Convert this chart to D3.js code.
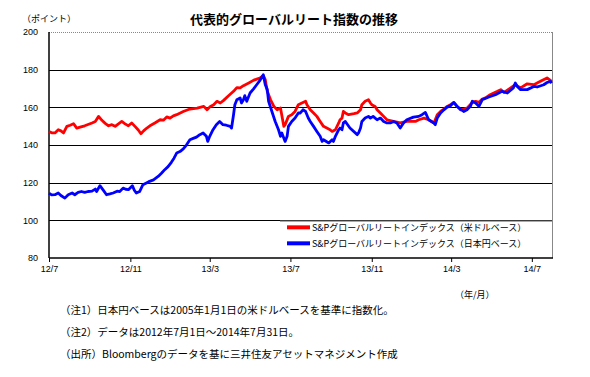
<!DOCTYPE html>
<html>
<head>
<meta charset="utf-8">
<script src="https://cdn.jsdelivr.net/npm/d3@7"></script>
<style>
body { margin: 0; background: #fff; }
text { font-family: "Noto Sans CJK JP", "Liberation Sans", sans-serif; fill: #000; }
.num text, text.num { font-family: "Liberation Sans", Arial, sans-serif; }
</style>
</head>
<body>
<div id="chart"></div>
<script>
////////////////////////// Data //////////////////////////

var title = "代表的グローバルリート指数の推移";
var seriesNames = ["S&Pグローバルリートインデックス（米ドルベース）", "S&Pグローバルリートインデックス（日本円ベース）"];
var yTicks = [80, 100, 120, 140, 160, 180, 200];
var xTicks = ["2012-07-01", "2012-11-01", "2013-03-01", "2013-07-01", "2013-11-01", "2014-03-01", "2014-07-01"];
var notes = [
	"（注1）日本円ベースは2005年1月1日の米ドルベースを基準に指数化。",
	"（注2）データは2012年7月1日～2014年7月31日。",
	"（出所）Bloombergのデータを基に三井住友アセットマネジメント作成"
];

//US dollar base (red)
var usdDates = ["2012-07-01","2012-07-05","2012-07-10","2012-07-15","2012-07-19","2012-07-23","2012-07-28","2012-08-02","2012-08-07","2012-08-12",
	"2012-08-17","2012-08-24","2012-09-04","2012-09-09","2012-09-14","2012-09-19","2012-09-24","2012-09-29","2012-10-04","2012-10-09",
	"2012-10-13","2012-10-19","2012-10-24","2012-10-29","2012-11-03","2012-11-08","2012-11-13","2012-11-17","2012-11-21","2012-11-26",
	"2012-12-02","2012-12-08","2012-12-16","2012-12-21","2012-12-26","2012-12-31","2013-01-05","2013-01-10","2013-01-20","2013-01-30",
	"2013-02-10","2013-02-20","2013-02-25","2013-03-02","2013-03-07","2013-03-12","2013-03-17","2013-03-22","2013-03-29","2013-04-06",
	"2013-04-11","2013-04-16","2013-04-21","2013-04-29","2013-05-06","2013-05-11","2013-05-16","2013-05-21","2013-05-24","2013-05-27",
	"2013-06-01","2013-06-06","2013-06-11","2013-06-16","2013-06-21","2013-06-23","2013-06-28","2013-07-03","2013-07-08","2013-07-13",
	"2013-07-16","2013-07-24","2013-07-26","2013-07-31","2013-08-05","2013-08-10","2013-08-15","2013-08-20","2013-08-25","2013-08-30",
	"2013-09-02","2013-09-07","2013-09-12","2013-09-14","2013-09-17","2013-09-19","2013-09-22","2013-09-27","2013-10-05","2013-10-10",
	"2013-10-15","2013-10-17","2013-10-22","2013-10-27","2013-10-30","2013-11-01","2013-11-06","2013-11-09","2013-11-14","2013-11-19",
	"2013-11-24","2013-12-04","2013-12-14","2013-12-24","2014-01-06","2014-01-11","2014-01-19","2014-01-26","2014-02-03","2014-02-08",
	"2014-02-13","2014-02-18","2014-02-23","2014-02-28","2014-03-05","2014-03-10","2014-03-15","2014-03-20","2014-03-25","2014-04-02",
	"2014-04-07","2014-04-12","2014-04-17","2014-04-22","2014-04-29","2014-05-10","2014-05-15","2014-05-20","2014-05-30","2014-06-06",
	"2014-06-14","2014-06-24","2014-07-04","2014-07-14","2014-07-24","2014-07-29","2014-07-31"];
var usdValues = [147.2,146.5,146.4,148.1,147.5,146.4,149.9,150.5,151.3,149.0,
	149.5,150.2,151.7,152.5,155.2,153.1,151.5,150.2,150.8,149.9,
	151.0,152.5,151.2,150.2,151.7,149.9,148.0,146.0,147.5,149.0,
	150.5,151.7,153.4,153.2,154.9,154.3,155.5,156.1,157.8,159.1,
	159.6,160.5,158.7,160.5,161.4,163.2,162.3,163.7,166.0,168.5,
	170.5,170.3,171.5,172.9,174.3,175.0,175.6,176.8,174.7,168.5,
	164.0,160.5,158.7,159.6,149.9,150.8,155.2,156.1,157.8,161.4,
	161.9,163.2,161.4,158.7,157.0,155.2,152.5,149.9,149.0,148.1,
	147.2,148.1,151.7,153.4,154.3,157.8,157.0,156.1,156.6,157.0,
	158.7,161.4,163.2,164.0,162.3,161.4,160.5,158.7,157.0,155.2,
	153.4,152.5,151.7,152.5,152.5,153.4,154.3,153.4,151.7,156.1,
	157.8,159.1,160.5,161.4,162.6,160.5,158.7,159.1,159.6,162.6,
	163.2,162.6,164.4,165.0,166.7,168.5,169.4,167.9,170.3,172.0,
	170.3,172.5,172.0,173.8,175.6,174.3,173.8];

//Japanese yen base (blue)
var jpyDates = ["2012-07-01","2012-07-05","2012-07-10","2012-07-15","2012-07-19","2012-07-25","2012-07-30","2012-08-05","2012-08-09","2012-08-14",
	"2012-08-19","2012-08-24","2012-08-29","2012-09-04","2012-09-09","2012-09-11","2012-09-16","2012-09-21","2012-09-26","2012-10-01",
	"2012-10-06","2012-10-12","2012-10-16","2012-10-21","2012-10-25","2012-10-29","2012-11-04","2012-11-07","2012-11-10","2012-11-15",
	"2012-11-20","2012-11-26","2012-11-30","2012-12-06","2012-12-13","2012-12-18","2012-12-23","2012-12-28","2013-01-02","2013-01-06",
	"2013-01-10","2013-01-15","2013-01-20","2013-01-25","2013-01-30","2013-02-04","2013-02-09","2013-02-14","2013-02-19","2013-02-24",
	"2013-02-26","2013-03-01","2013-03-06","2013-03-11","2013-03-16","2013-03-21","2013-03-26","2013-04-01","2013-04-03","2013-04-06",
	"2013-04-08","2013-04-11","2013-04-16","2013-04-18","2013-04-21","2013-04-23","2013-04-26","2013-05-01","2013-05-06","2013-05-11",
	"2013-05-16","2013-05-21","2013-05-24","2013-05-27","2013-05-29","2013-06-03","2013-06-08","2013-06-13","2013-06-16","2013-06-18",
	"2013-06-23","2013-06-26","2013-06-28","2013-07-03","2013-07-08","2013-07-13","2013-07-16","2013-07-20","2013-07-24","2013-07-28",
	"2013-07-31","2013-08-05","2013-08-10","2013-08-15","2013-08-18","2013-08-20","2013-08-28","2013-09-02","2013-09-04","2013-09-07",
	"2013-09-12","2013-09-14","2013-09-17","2013-09-19","2013-09-22","2013-09-29","2013-10-10","2013-10-12","2013-10-15","2013-10-17",
	"2013-10-22","2013-10-27","2013-10-30","2013-11-03","2013-11-09","2013-11-14","2013-11-19","2013-11-24","2013-11-29","2013-12-04",
	"2013-12-09","2013-12-14","2013-12-19","2013-12-24","2014-01-03","2014-01-11","2014-01-16","2014-01-21","2014-01-26","2014-02-03",
	"2014-02-05","2014-02-08","2014-02-13","2014-02-18","2014-02-23","2014-02-28","2014-03-05","2014-03-10","2014-03-15","2014-03-20",
	"2014-03-25","2014-03-30","2014-04-02","2014-04-07","2014-04-12","2014-04-17","2014-04-27","2014-05-07","2014-05-17","2014-05-25",
	"2014-06-03","2014-06-06","2014-06-09","2014-06-14","2014-06-24","2014-07-04","2014-07-09","2014-07-19","2014-07-24","2014-07-29",
	"2014-07-31"];
var jpyValues = [114.4,113.5,113.6,114.5,113.2,111.8,113.6,114.5,113.6,114.8,
	115.3,114.8,115.3,115.5,116.6,115.3,118.4,116.0,113.6,114.0,
	114.5,115.5,115.3,117.1,116.5,116.3,118.4,116.0,114.5,115.3,
	118.9,120.0,120.7,121.5,123.3,125.0,126.9,128.5,130.8,133.0,
	135.7,136.5,137.9,140.1,142.8,143.5,144.2,145.5,146.4,144.6,
	141.9,144.6,148.1,150.8,152.5,150.8,150.5,149.9,149.0,156.1,
	161.4,164.0,165.0,162.3,164.0,166.2,163.2,167.6,169.7,172.0,
	174.3,177.3,172.0,169.4,163.2,157.8,152.5,148.1,144.6,146.4,
	141.9,144.6,149.9,152.5,154.3,157.0,157.0,158.7,157.8,154.3,
	152.5,149.9,147.2,144.6,141.9,142.8,141.1,142.8,141.9,144.6,
	148.1,149.0,148.1,151.7,152.5,149.0,145.5,146.4,149.0,152.5,
	154.3,155.2,154.3,155.2,153.4,154.3,152.5,151.7,151.7,152.5,
	151.7,149.0,151.7,153.4,154.8,155.2,156.1,157.3,153.4,151.7,
	150.8,154.3,157.0,158.7,160.1,160.9,162.6,160.5,159.1,157.8,
	158.7,160.5,163.2,162.3,160.5,164.0,165.5,166.7,168.5,167.6,
	170.3,172.9,171.1,169.4,169.4,171.1,170.8,172.0,173.2,173.8,
	172.9];

////////////////////////// Set-up //////////////////////////

var W = 590, H = 377;
var margin = {top: 32, right: 37, bottom: 119, left: 49},
	width = W - margin.left - margin.right,
	height = H - margin.top - margin.bottom;

var parse = d3.timeParse("%Y-%m-%d");

var usd = usdDates.map(function(d, i) { return {date: parse(d), value: usdValues[i]}; });
var jpy = jpyDates.map(function(d, i) { return {date: parse(d), value: jpyValues[i]}; });

var x = d3.scaleTime()
	.domain([parse("2012-07-01"), parse("2014-08-02")])
	.range([0, width]);

var y = d3.scaleLinear()
	.domain([80, 200])
	.range([height, 0]);

var svg = d3.select("#chart").append("svg")
	.attr("width", W)
	.attr("height", H);

var g = svg.append("g")
	.attr("transform", "translate(" + margin.left + "," + margin.top + ")");

//Title and unit labels
svg.append("text")
	.attr("x", 294)
	.attr("y", 24)
	.attr("text-anchor", "middle")
	.style("font-size", "13px")
	.style("font-weight", "bold")
	.text(title);

svg.append("text")
	.attr("x", 22)
	.attr("y", 22)
	.style("font-size", "9px")
	.text("（ポイント）");

svg.append("text")
	.attr("x", 455)
	.attr("y", 298)
	.style("font-size", "9px")
	.text("（年/月）");

//Gridlines
g.selectAll(".grid")
	.data(yTicks.filter(function(d) { return d > 80 && d < 200; }))
	.enter().append("line")
	.attr("x1", 0)
	.attr("x2", width)
	.attr("y1", function(d) { return Math.round(y(d)) + 0.5; })
	.attr("y2", function(d) { return Math.round(y(d)) + 0.5; })
	.style("stroke", "#000")
	.style("stroke-width", 1.2);

//Plot border top/right
g.append("line")
	.attr("x1", 0).attr("x2", width)
	.attr("y1", 0.5).attr("y2", 0.5)
	.style("stroke", "#888")
	.style("stroke-dasharray", "1,1");
g.append("line")
	.attr("x1", width - 0.5).attr("x2", width - 0.5)
	.attr("y1", 0).attr("y2", height)
	.style("stroke", "#888");

//Y axis
var yAxis = g.append("g")
	.attr("class", "num")
	.call(d3.axisLeft(y).tickValues(yTicks).tickSize(0).tickPadding(11));
yAxis.select(".domain").remove();
yAxis.selectAll("text").style("font-size", "9px").style("fill", "#000");

//X axis
var xAxis = g.append("g")
	.attr("class", "num")
	.attr("transform", "translate(0," + height + ")")
	.call(d3.axisBottom(x)
		.tickValues(xTicks.map(parse))
		.tickSize(4)
		.tickPadding(4)
		.tickFormat(d3.timeFormat("%y/%-m")));
xAxis.select(".domain").remove();
xAxis.selectAll("line").style("stroke", "#000");
xAxis.selectAll("text").style("font-size", "9px").style("fill", "#000");

//Axis lines
g.append("line")
	.attr("x1", 0).attr("x2", width)
	.attr("y1", height).attr("y2", height)
	.style("stroke", "#000").style("stroke-width", 1.5);
g.append("line")
	.attr("x1", 0).attr("x2", 0)
	.attr("y1", 0).attr("y2", height)
	.style("stroke", "#000").style("stroke-width", 1.5);

//Lines
var line = d3.line()
	.x(function(d) { return x(d.date); })
	.y(function(d) { return y(d.value); });

var colors = ["#ff0000", "#0000ff"];

[usd, jpy].forEach(function(data, i) {
	g.append("path")
		.datum(data)
		.attr("d", line)
		.style("fill", "none")
		.style("stroke", colors[i])
		.style("stroke-width", 2.8)
		.style("stroke-linejoin", "round");
});

//Legend
var legend = g.append("g")
	.attr("transform", "translate(" + (280 - margin.left) + "," + (y(100) + 0.5) + ")");

legend.append("rect")
	.attr("x", 0)
	.attr("y", 0)
	.attr("width", width - (280 - margin.left) - 1)
	.attr("height", 32)
	.style("fill", "#fff");
legend.append("line")
	.attr("x1", 0).attr("x2", width - (280 - margin.left) - 1)
	.attr("y1", 0.5).attr("y2", 0.5)
	.style("stroke", "#999");

seriesNames.forEach(function(name, i) {
	var yy = 6.5 + i * 16;
	legend.append("line")
		.attr("x1", 7).attr("x2", 30)
		.attr("y1", yy).attr("y2", yy)
		.style("stroke", colors[i])
		.style("stroke-width", 4);
	legend.append("text")
		.attr("x", 32)
		.attr("y", yy + 3.5)
		.style("font-size", "9px")
		.text(name);
});

//Notes
notes.forEach(function(n, i) {
	svg.append("text")
		.attr("x", 60)
		.attr("y", 314 + i * 22)
		.style("font-size", "10.5px")
		.text(n);
});
</script>
</body>
</html>
